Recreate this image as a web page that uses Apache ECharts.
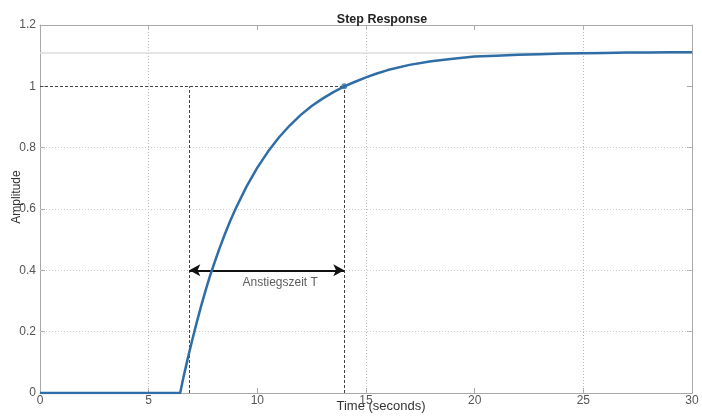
<!DOCTYPE html>
<html>
<head>
<meta charset="utf-8">
<script src="https://cdn.jsdelivr.net/npm/echarts@6/dist/echarts.min.js"></script>
<style>
  html, body { margin: 0; padding: 0; background: #fff; }
  #chart { width: 702px; height: 417px; }
</style>
</head>
<body>
<div id="chart"></div>
<script>
// Step response of a delayed first-order plant
const times = [0, 6.45, 6.6, 6.8, 7.0, 7.2, 7.4, 7.6, 7.8, 8, 8.25, 8.5, 8.75, 9, 9.5, 10, 10.5, 11, 11.5, 12, 12.5, 13, 13.5, 14, 14.5, 15,
               15.5, 16, 17, 18, 19, 20, 21, 22, 23, 24, 25, 26, 27, 28, 29, 30];
const amplitude = [0, 0, 0.051, 0.113, 0.171, 0.227, 0.280, 0.330, 0.377, 0.419, 0.470, 0.517, 0.561, 0.601, 0.673, 0.735, 0.788, 0.834, 0.873, 0.907, 0.936, 0.960, 0.981, 1.000, 1.015, 1.029,
                   1.042, 1.053, 1.070, 1.082, 1.090, 1.097, 1.100, 1.103, 1.105, 1.107, 1.108, 1.109, 1.110, 1.110, 1.111, 1.111];

// Axis ticks
const xTicks = [0, 5, 10, 15, 20, 25, 30];
const yTicks = [0, 0.2, 0.4, 0.6, 0.8, 1, 1.2];
const xGrid = [5, 15, 25];
const yGrid = [0.2, 0.4, 0.6, 0.8];

// Rise-time construction
const riseStart = 6.87;
const riseEnd = 14;
const refLevel = 1;
const arrowLevel = 0.4;
const steadyState = 1.11;
const riseLabel = 'Anstiegszeit T';
const riseLabelPos = [11.05, 0.36];

const chart = echarts.init(document.getElementById('chart'), null, { renderer: 'canvas' });
const font = 'Liberation Sans, Arial, sans-serif';
const frameColor = '#a8a8a8';
const dashDark = { color: '#444', width: 1, type: [3, 2] };

const axisCommon = {
  type: 'value',
  axisLine: { show: true, onZero: false, lineStyle: { color: frameColor, width: 1 } },
  axisTick: { show: true, inside: true, length: 5, lineStyle: { color: frameColor } },
  splitLine: { show: false },
  axisLabel: { color: '#555', fontFamily: font, fontSize: 12 }
};

const xRange = { min: xTicks[0], max: xTicks[xTicks.length - 1], interval: xTicks[1] - xTicks[0] };
const yRange = { min: yTicks[0], max: yTicks[yTicks.length - 1], interval: 0.2 };

chart.setOption({
  animation: false,
  backgroundColor: '#fff',
  title: {
    text: 'Step Response', left: 377, top: 8, textAlign: 'center',
    textStyle: { fontFamily: font, fontSize: 12.5, fontWeight: 'bold', color: '#222' }
  },
  grid: { left: 40, right: 10, top: 25, bottom: 24, containLabel: false, outerBoundsMode: 'none' },
  xAxis: [
    Object.assign({}, axisCommon, xRange, {
      position: 'bottom',
      name: 'Time (seconds)', nameLocation: 'middle', nameGap: 7, nameMoveOverlap: false,
      nameTextStyle: { fontFamily: font, fontSize: 13, color: '#333', padding: [0, 0, 0, 30] },
      axisLabel: { color: '#555', fontFamily: font, fontSize: 12, margin: 2 }
    }),
    Object.assign({}, axisCommon, xRange, { position: 'top', axisLabel: { show: false } })
  ],
  yAxis: [
    Object.assign({}, axisCommon, yRange, {
      position: 'left',
      name: 'Amplitude', nameLocation: 'middle', nameGap: 17, nameMoveOverlap: false,
      nameTextStyle: { fontFamily: font, fontSize: 12, color: '#333', padding: [0, 0, 0, 24] },
      axisLabel: { color: '#555', fontFamily: font, fontSize: 12, margin: 4,
        formatter: v => String(Math.round(v * 10) / 10) }
    }),
    Object.assign({}, axisCommon, yRange, { position: 'right', axisLabel: { show: false } })
  ],
  series: [
    {
      // grid lines and steady-state level
      type: 'line', data: [], silent: true,
      markLine: {
        silent: true, symbol: 'none', label: { show: false }, animation: false,
        data: [
          ...xGrid.map(v => ({ xAxis: v, lineStyle: { color: '#bbb', width: 1, type: [1, 2] } })),
          ...yGrid.map(v => ({ yAxis: v, lineStyle: { color: '#ccc', width: 1, type: [1, 2] } })),
          { yAxis: steadyState, lineStyle: { color: '#ddd', width: 1.5, type: 'solid' } }
        ]
      }
    },
    {
      // reference level and rise-time bounds
      type: 'line', data: [], silent: true,
      markLine: {
        silent: true, symbol: 'none', label: { show: false }, animation: false,
        lineStyle: dashDark,
        data: [
          [{ coord: [xTicks[0], refLevel] }, { coord: [riseEnd, refLevel] }],
          [{ coord: [riseStart, 0] }, { coord: [riseStart, refLevel] }],
          [{ coord: [riseEnd, 0] }, { coord: [riseEnd, refLevel] }]
        ]
      }
    },
    {
      name: 'response',
      type: 'line',
      data: times.map((t, i) => [t, amplitude[i]]),
      showSymbol: false,
      smooth: false,
      lineStyle: { color: '#2f6da6', width: 2.5 },
      z: 5
    },
    {
      // double arrow for the rise time
      type: 'line', data: [], silent: true,
      markLine: {
        silent: true, symbol: ['arrow', 'arrow'], symbolSize: [9, 11], label: { show: false }, animation: false,
        lineStyle: { color: '#111', width: 2, type: 'solid' },
        data: [[{ coord: [riseStart, arrowLevel] }, { coord: [riseEnd, arrowLevel] }]]
      },
      z: 6
    },
    {
      type: 'scatter',
      data: [[riseEnd, refLevel]],
      symbolSize: 6,
      itemStyle: { color: '#2f6da6' },
      z: 7
    },
    {
      type: 'scatter',
      data: [riseLabelPos],
      symbolSize: 0,
      label: {
        show: true, position: 'inside', formatter: riseLabel,
        fontFamily: font, fontSize: 12, color: '#333'
      },
      z: 7
    }
  ]
});
</script>
</body>
</html>
